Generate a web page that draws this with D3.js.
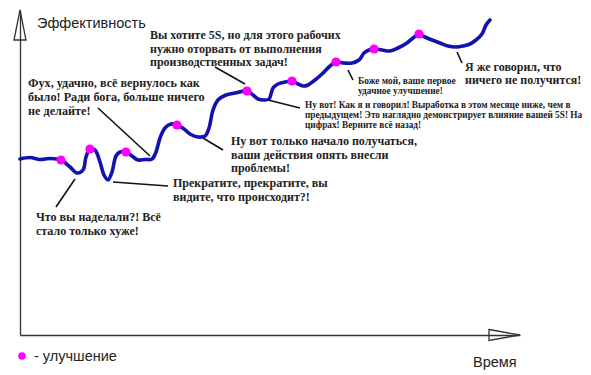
<!DOCTYPE html>
<html>
<head>
<meta charset="utf-8">
<script src="https://cdn.jsdelivr.net/npm/d3@7"></script>
<style>
  body { margin: 0; background: #fff; }
  svg { display: block; }
</style>
</head>
<body>
<script>
// time (weeks) and efficiency readings of the hand-drawn curve
const time = [0, 2, 4, 6, 8.2, 10, 11.4, 12.6, 13.2, 14, 15, 16, 16.8, 17.6, 18.4, 19.2, 20, 21.2,
  22.4, 23.6, 25, 26.4, 27.2, 28, 29, 30.2, 31.4, 32.8, 34, 35.6, 37, 37.8, 38.6, 39.6, 41.2, 43,
  45.4, 46.6, 47.6, 48.8, 49.8, 50.6, 51.6, 53, 54.4, 55.6, 56.6, 57.6, 59, 60.4, 62, 63.2, 64.8,
  66.4, 67.8, 68.8, 69.8, 70.8, 72.4, 74, 75.6, 77.4, 78.6, 79.8, 81, 82.4, 84, 85.6, 87.2, 88.6,
  90, 91.2, 92.4, 93.2, 94];
const efficiency = [35.2, 35.5, 35.1, 35.3, 35, 33.6, 32.4, 33, 35.6, 37.2, 37, 34.6, 32, 31, 32.6,
  35.8, 36.6, 36.6, 35.8, 35, 35.1, 35.2, 36.6, 39.4, 41.4, 42.2, 42, 41.2, 40.2, 39.6, 39.8, 41.4,
  45, 47, 48, 48.4, 48.8, 48, 47.2, 47, 47.2, 49.4, 50.2, 50.6, 50.8, 50.2, 49.8, 50, 51, 52.2,
  53.8, 54.6, 54.4, 54.4, 55, 56.4, 57, 57.2, 57, 56.8, 57.4, 58.4, 59.4, 60.2, 59.6, 59, 58.4,
  57.8, 57.6, 57.8, 58.2, 59, 60.2, 62, 63];
// moments when an improvement was made
const improvements = [8.2, 14, 21.2, 31.4, 45.4, 54.4, 63.2, 70.8, 79.8];

const noteTexts = [
  ["Вы хотите 5S, но для этого рабочих", "нужно оторвать от выполнения", "производственных задач!"],
  ["Фух, удачно, всё вернулось как", "было! Ради бога, больше ничего", "не делайте!"],
  ["Ну вот только начало получаться,", "ваши действия опять внесли", "проблемы!"],
  ["Прекратите, прекратите, вы", "видите, что происходит?!"],
  ["Что вы наделали?! Всё", "стало только хуже!"],
  ["Ну вот! Как я и говорил! Выработка в этом месяце ниже, чем в",
   "предыдущем! Это наглядно демонстрирует влияние вашей 5S! На", "цифрах! Верните всё назад!"],
  ["Боже мой, ваше первое", "удачное улучшение!"],
  ["Я же говорил, что", "ничего не получится!"]
];
const axisTitles = ["Эффективность", "Время"];
const legendText = "- улучшение";

// layout of the notes, in chart units: text anchor, font size, line step, leader line
const noteLayout = [
  { t: 26, e: 59.2, size: 12, step: 2.7, leader: [39, 53.6, 45, 50.2] },
  { t: 1.6, e: 49.6, size: 12.2, step: 2.75, leader: [15.6, 45.4, 26, 35.8] },
  { t: 42.2, e: 38, size: 12, step: 2.7, leader: [36.6, 39.4, 40.6, 37] },
  { t: 30.6, e: 29.6, size: 12, step: 2.8, leader: [18.6, 30.6, 29.6, 29.8] },
  { t: 3.2, e: 22.8, size: 12, step: 2.8, leader: [11, 31.2, 7.2, 25.6] },
  { t: 57, e: 45.4, size: 9.3, step: 2, leader: [49.6, 47, 56, 45.4] },
  { t: 67.6, e: 50.3, size: 9.4, step: 2, leader: [65.6, 53, 66.6, 51] },
  { t: 89, e: 52.8, size: 12, step: 2.65, leader: [87.4, 56.6, 88.4, 54.4] }
];

const width = 591, height = 375;
const svg = d3.select("body").append("svg")
  .attr("width", width)
  .attr("height", height);

const x = d3.scaleLinear().domain([0, 100]).range([20, 520]);
const y = d3.scaleLinear().domain([0, 65]).range([335, 10]);

const axisColor = "#333";

// axes without ticks, just the lines
svg.append("g")
  .attr("transform", `translate(${x(0)},0)`)
  .call(d3.axisLeft(y).ticks(0).tickSizeOuter(0))
  .call(g => g.select(".domain").attr("stroke", axisColor).attr("stroke-width", 1.3));

svg.append("g")
  .attr("transform", `translate(0,${y(0)})`)
  .call(d3.axisBottom(x).ticks(0).tickSizeOuter(0))
  .call(g => g.select(".domain").attr("stroke", axisColor).attr("stroke-width", 1.3));

// hollow arrow heads
const arrow = d3.line();
svg.append("path")
  .attr("d", arrow([[x(0) - 6, y(59)], [x(0), y(65)], [x(0) + 6, y(59)]]) + "Z")
  .attr("fill", "none").attr("stroke", axisColor).attr("stroke-width", 1.3);
svg.append("path")
  .attr("d", arrow([[x(93.8), y(0) - 5.5], [x(100), y(0)], [x(93.8), y(0) + 5.5]]) + "Z")
  .attr("fill", "none").attr("stroke", axisColor).attr("stroke-width", 1.3);

svg.append("text")
  .attr("x", x(3.4)).attr("y", 28)
  .style("font-family", "'Liberation Sans', Arial, sans-serif")
  .style("font-size", "14.5px")
  .attr("fill", "#222")
  .text(axisTitles[0]);

svg.append("text")
  .attr("x", x(90.6)).attr("y", 367)
  .style("font-family", "'Liberation Sans', Arial, sans-serif")
  .style("font-size", "14.5px")
  .attr("fill", "#222")
  .text(axisTitles[1]);

// legend
svg.append("circle")
  .attr("cx", 22).attr("cy", 356).attr("r", 3.8)
  .attr("fill", "#ff00ff");
svg.append("text")
  .attr("x", 34).attr("y", 361)
  .style("font-family", "'Liberation Sans', Arial, sans-serif")
  .style("font-size", "14.5px")
  .attr("fill", "#222")
  .text(legendText);

// efficiency curve
const points = time.map((t, i) => [t, efficiency[i]]);
const line = d3.line()
  .x(d => x(d[0]))
  .y(d => y(d[1]))
  .curve(d3.curveCatmullRom.alpha(0.5));

svg.append("path")
  .datum(points)
  .attr("d", line)
  .attr("fill", "none")
  .attr("stroke", "#1212b0")
  .attr("stroke-width", 3.6)
  .attr("stroke-linejoin", "round")
  .attr("stroke-linecap", "round");

svg.append("g")
  .selectAll("circle")
  .data(improvements)
  .join("circle")
  .attr("cx", d => x(d))
  .attr("cy", d => y(efficiency[time.indexOf(d)]))
  .attr("r", 4.6)
  .attr("fill", "#ff00ff");

// notes with leader lines
const notes = svg.append("g");
noteLayout.forEach((n, i) => {
  notes.append("line")
    .attr("x1", x(n.leader[0])).attr("y1", y(n.leader[1]))
    .attr("x2", x(n.leader[2])).attr("y2", y(n.leader[3]))
    .attr("stroke", "#111")
    .attr("stroke-width", 1.6);

  notes.append("g")
    .selectAll("text")
    .data(noteTexts[i])
    .join("text")
    .attr("x", x(n.t))
    .attr("y", (d, j) => y(n.e - j * n.step))
    .style("font-family", "'Liberation Serif', 'Times New Roman', serif")
    .style("font-weight", "bold")
    .style("font-size", n.size + "px")
    .attr("fill", "#222")
    .text(d => d);
});
</script>
</body>
</html>
